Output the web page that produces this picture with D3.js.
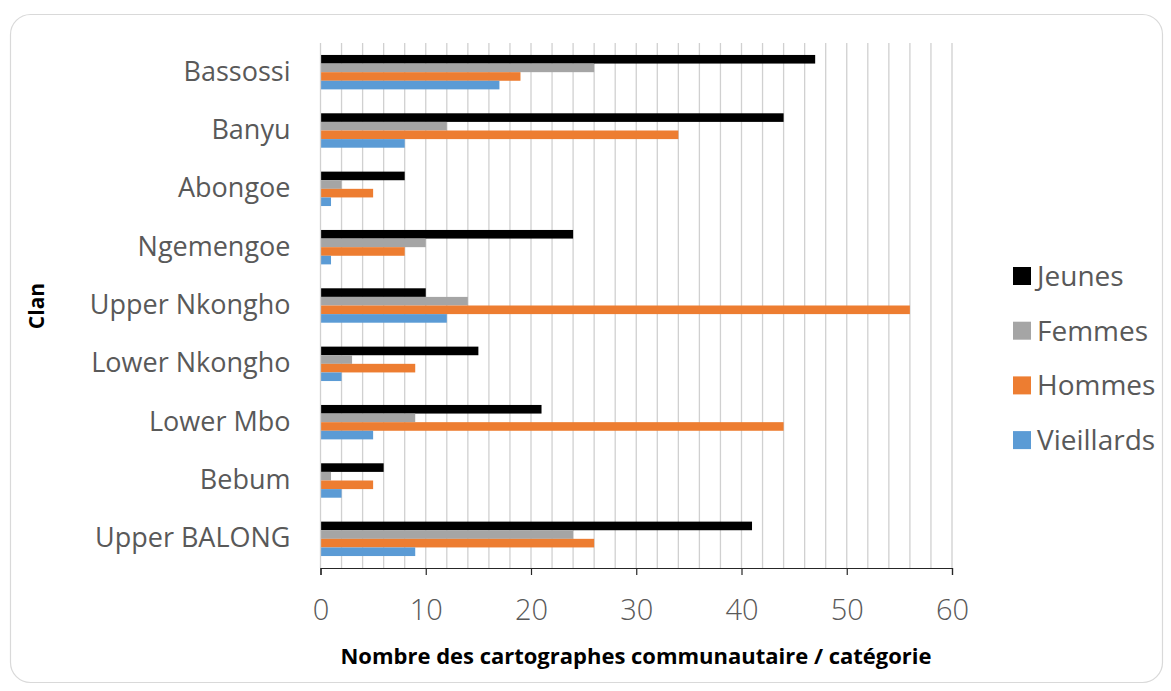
<!DOCTYPE html>
<html><head><meta charset="utf-8">
<script src="https://cdn.jsdelivr.net/npm/d3@7"></script>
<style>html,body{margin:0;padding:0;background:#fff;}</style>
</head><body>
<svg id="chart" width="1171" height="691"></svg>
<script>
const categories = ["Bassossi","Banyu","Abongoe","Ngemengoe","Upper Nkongho","Lower Nkongho","Lower Mbo","Bebum","Upper BALONG"];
const seriesNames = ["Jeunes","Femmes","Hommes","Vieillards"];
const jeunes     = [47,44,8,24,10,15,21,6,41];
const femmes     = [26,12,2,10,14,3,9,1,24];
const hommes     = [19,34,5,8,56,9,44,5,26];
const vieillards = [17,8,1,1,12,2,5,2,9];
const xTicks = [0,10,20,30,40,50,60];
const colors = ["#000000","#A5A5A5","#ED7D31","#5B9BD5"];
const seriesValues = [jeunes, femmes, hommes, vieillards];

(function(){
const svg = d3.select("#chart");
const font = "'Open Sans', sans-serif";
const pLeft = 320.5, pRight = 952, pTop = 43, pBottom = 568;

svg.append("rect").attr("x",10.5).attr("y",14.5).attr("width",1152).attr("height",668)
  .attr("rx",20).attr("fill","#fff").attr("stroke","#d9d9d9").attr("stroke-width",1.2);

const x = d3.scaleLinear().domain([0,60]).range([pLeft,pRight]);
const y = d3.scaleBand().domain(categories).range([pTop,pBottom]).paddingInner(0.41).paddingOuter(0.205);
const ySub = d3.scaleBand().domain(seriesNames).range([0,y.bandwidth()]);

svg.append("g").selectAll("line").data(d3.range(2,61,2)).join("line")
  .attr("x1",d=>x(d)).attr("x2",d=>x(d)).attr("y1",pTop).attr("y2",pBottom)
  .attr("stroke","#d0d0d0").attr("stroke-width",1.3);

seriesNames.forEach((s,i)=>{
  svg.append("g").selectAll("rect").data(categories).join("rect")
    .attr("x",x(0))
    .attr("y",c=>y(c)+ySub(s))
    .attr("width",(c,j)=>x(seriesValues[i][j])-x(0))
    .attr("height",ySub.bandwidth())
    .attr("fill",colors[i]);
});

svg.append("line").attr("x1",pLeft).attr("x2",pLeft).attr("y1",pTop).attr("y2",pBottom)
  .attr("stroke","#d0d0d0").attr("stroke-width",1.3);

const xAxis = d3.axisBottom(x).tickValues(xTicks).tickSize(7).tickPadding(24).tickFormat(d3.format("d"));
const gx = svg.append("g").attr("transform",`translate(0,${pBottom})`).call(xAxis);
gx.select(".domain").attr("stroke","#262626").attr("stroke-width",1.2);
gx.selectAll(".tick line").attr("stroke","#262626").attr("stroke-width",1.2);
gx.selectAll(".tick text").attr("font-family",font).attr("font-size",29).attr("fill","#595959").attr("font-weight",300);

const yAxis = d3.axisLeft(y).tickSize(0).tickPadding(30);
const gy = svg.append("g").attr("transform",`translate(${pLeft},0)`).call(yAxis);
gy.select(".domain").remove();
gy.selectAll(".tick text").attr("font-family",font).attr("font-size",27).attr("fill","#595959");

svg.append("text").attr("x",636).attr("y",664).attr("text-anchor","middle")
  .attr("font-family",font).attr("font-weight","bold").attr("font-size",21).attr("fill","#000")
  .attr("textLength",591).attr("lengthAdjust","spacingAndGlyphs")
  .text("Nombre des cartographes communautaire / catégorie");
svg.append("text").attr("transform","translate(44,306) rotate(-90)").attr("text-anchor","middle")
  .attr("font-family",font).attr("font-weight","bold").attr("font-size",21).attr("fill","#000")
  .text("Clan");

const lg = svg.append("g");
seriesNames.forEach((s,i)=>{
  const cy = 276 + i*54.7;
  lg.append("rect").attr("x",1013).attr("y",cy-9).attr("width",18).attr("height",18).attr("fill",colors[i]);
  lg.append("text").attr("x",1037).attr("y",cy).attr("dy","0.35em")
    .attr("font-family",font).attr("font-size",28).attr("fill","#595959").text(s);
});
})();
</script>
</body></html>
